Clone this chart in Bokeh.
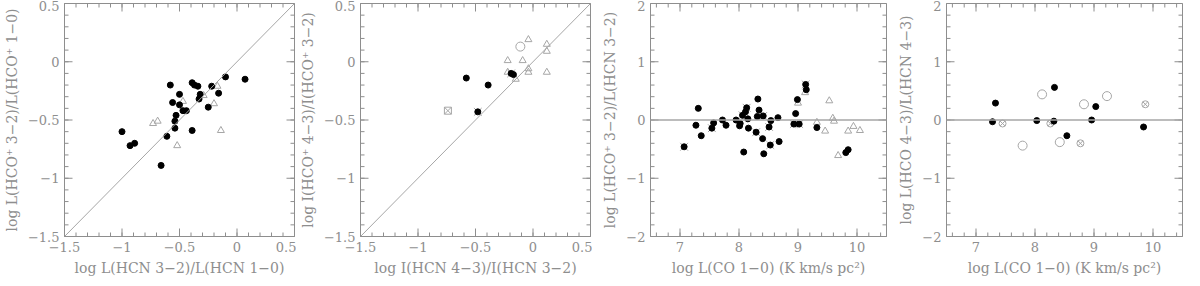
import numpy as np
from bokeh.plotting import figure
from bokeh.layouts import row
from bokeh.models import FixedTicker, CustomJSTickFormatter, Range1d, Slope, Span
from bokeh.embed import file_html
from bokeh.resources import INLINE

# ---------------- data ----------------
# Panel 1: log L(HCO+ 3-2)/L(HCO+ 1-0) vs log L(HCN 3-2)/L(HCN 1-0)
p1_dot_x = [-1.00, -0.93, -0.89, -0.66, -0.61, -0.58, -0.56, -0.54, -0.54, -0.53, -0.50, -0.50,
            -0.47, -0.44, -0.39, -0.39, -0.37, -0.34, -0.33, -0.32, -0.25, -0.22, -0.16, -0.10, 0.07]
p1_dot_y = [-0.60, -0.72, -0.70, -0.89, -0.64, -0.20, -0.35, -0.51, -0.57, -0.46, -0.28, -0.37,
            -0.42, -0.42, -0.18, -0.59, -0.20, -0.21, -0.32, -0.28, -0.39, -0.21, -0.27, -0.13, -0.15]
p1_tri_x = [-0.73, -0.69, -0.52, -0.47, -0.29, -0.20, -0.17, -0.14]
p1_tri_y = [-0.53, -0.51, -0.72, -0.34, -0.29, -0.36, -0.21, -0.59]

# Panel 2: log I(HCO+ 4-3)/I(HCO+ 3-2) vs log I(HCN 4-3)/I(HCN 3-2)
p2_dot_x = [-0.58, -0.39, -0.48, -0.19, -0.17]
p2_dot_y = [-0.14, -0.20, -0.43, -0.10, -0.11]
p2_cross_x = [-0.48, -0.19]
p2_cross_y = [-0.43, -0.10]
p2_sqx_x = [-0.74]
p2_sqx_y = [-0.42]
p2_circ_x = [-0.11]
p2_circ_y = [0.13]
p2_tri_x = [-0.22, -0.22, -0.15, -0.09, -0.04, -0.04, -0.04, 0.12, 0.12, 0.12]
p2_tri_y = [0.01, -0.09, -0.15, 0.01, 0.19, -0.06, -0.09, 0.15, 0.09, -0.09]

# Panel 3: log L(HCO+ 3-2)/L(HCN 3-2) vs log L(CO 1-0)
p3_dot_x = [7.07, 7.27, 7.31, 7.36, 7.54, 7.57, 7.72, 7.78, 7.95, 8.01, 8.02, 8.06, 8.08, 8.11,
            8.13, 8.15, 8.16, 8.29, 8.31, 8.32, 8.34, 8.40, 8.41, 8.42, 8.51, 8.53, 8.54, 8.66,
            8.68, 8.93, 8.96, 8.99, 9.02, 9.13, 9.14, 9.32, 9.81, 9.85]
p3_dot_y = [-0.46, -0.09, 0.20, -0.27, -0.14, -0.05, 0.00, -0.09, 0.00, -0.10, -0.06, 0.08, -0.55,
            0.14, 0.21, 0.02, -0.14, -0.21, 0.06, 0.36, 0.17, -0.32, 0.07, -0.58, -0.12, -0.43,
            -0.01, 0.04, -0.37, -0.07, 0.11, 0.35, -0.07, 0.61, 0.52, -0.13, -0.56, -0.51]
p3_cross_x = [7.07, 7.54, 8.06, 8.13, 8.29, 8.41, 8.51, 8.53, 8.93, 9.02, 9.13]
p3_cross_y = [-0.46, -0.14, 0.08, 0.21, -0.21, 0.07, -0.12, -0.43, -0.07, -0.07, 0.61]
p3_tri_x = [9.00, 9.12, 9.32, 9.46, 9.53, 9.59, 9.61, 9.68, 9.85, 9.94, 10.05]
p3_tri_y = [0.29, 0.47, -0.04, -0.19, 0.33, 0.03, -0.02, -0.61, -0.19, -0.11, -0.18]

# Panel 4: log L(HCO 4-3)/L(HCN 4-3) vs log L(CO 1-0)
p4_dot_x = [7.28, 7.33, 8.03, 8.32, 8.33, 8.54, 8.96, 9.03, 9.84]
p4_dot_y = [-0.03, 0.29, -0.01, -0.02, 0.56, -0.27, 0.00, 0.23, -0.12]
p4_circ_x = [7.79, 8.12, 8.42, 8.83, 9.22]
p4_circ_y = [-0.44, 0.44, -0.38, 0.27, 0.41]
p4_cx_x = [7.45, 8.26, 8.77, 9.87]
p4_cx_y = [-0.06, -0.06, -0.40, 0.27]

# ticks
ratio_ticks = [-1.5, -1, -0.5, 0, 0.5]
co_ticks = [7, 8, 9, 10]
diff_ticks = [-2, -1, 0, 1, 2]

labels = [
    ("log L(HCN 3\u22122)/L(HCN 1\u22120)", "log L(HCO\u207a 3\u22122)/L(HCO\u207a 1\u22120)"),
    ("log I(HCN 4\u22123)/I(HCN 3\u22122)", "log I(HCO\u207a 4\u22123)/I(HCO\u207a 3\u22122)"),
    ("log L(CO 1\u22120) (K km/s pc\u00b2)", "log L(HCO\u207a 3\u22122)/L(HCN 3\u22122)"),
    ("log L(CO 1\u22120) (K km/s pc\u00b2)", "log L(HCO 4\u22123)/L(HCN 4\u22123)"),
]

GRAY = "#8e8e8e"
LGRAY = "#a6a6a6"
FONT = "DejaVu Serif"


def minor(lo, hi, step):
    return [round(v, 3) for v in np.arange(lo, hi + step / 2, step)]


def style_axis(ax, ticks):
    ax.ticker = FixedTicker(ticks=ticks, minor_ticks=[])
    ax.formatter = CustomJSTickFormatter(code="return String(tick).replace('-', '\\u2212');")
    ax.major_tick_in = 0
    ax.major_tick_out = 0
    ax.minor_tick_in = 0
    ax.minor_tick_out = 0
    ax.axis_line_color = GRAY
    ax.major_tick_line_color = None
    ax.minor_tick_line_color = None
    ax.major_label_text_font = FONT
    ax.major_label_text_font_size = "13px"
    ax.major_label_text_color = GRAY
    ax.major_label_standoff = 5
    ax.axis_label_text_font = FONT
    ax.axis_label_text_font_size = "14px"
    ax.axis_label_text_font_style = "normal"
    ax.axis_label_text_color = GRAY
    ax.axis_label_standoff = 5


def add_ticks(p, xr, yr, vals, minors, horizontal_edge):
    """Inward tick marks drawn as dashes centred on the frame edges (clipped by the frame)."""
    for v_list, size in ((vals, 16), (minors, 8)):
        n = len(v_list)
        if horizontal_edge:  # ticks on bottom/top edges (x values)
            for yv in yr:
                p.scatter(v_list, [yv] * n, marker="dash", size=size, angle=np.pi / 2,
                          line_color=GRAY, line_width=1)
        else:  # ticks on left/right edges (y values)
            for xv in xr:
                p.scatter([xv] * n, v_list, marker="dash", size=size,
                          line_color=GRAY, line_width=1)


def make_fig(xr, yr, xt, xm, yt, ym, xlabel, ylabel):
    p = figure(width=296, height=278, x_range=Range1d(*xr), y_range=Range1d(*yr),
               output_backend="svg", toolbar_location=None,
               min_border_left=58, min_border_right=2, min_border_top=3, min_border_bottom=0)
    p.xgrid.grid_line_color = None
    p.ygrid.grid_line_color = None
    p.outline_line_color = GRAY
    p.background_fill_color = "white"
    p.border_fill_color = "white"
    p.xaxis.axis_label = xlabel
    p.yaxis.axis_label = ylabel
    style_axis(p.xaxis[0], xt)
    style_axis(p.yaxis[0], yt)
    add_ticks(p, xr, yr, xt, xm, True)
    add_ticks(p, xr, yr, yt, ym, False)
    return p


rm = minor(-1.5, 0.5, 0.1)
cm = minor(6.6, 10.4, 0.2)
dm = minor(-2.0, 2.0, 0.2)

# Panel 1
p1 = make_fig((-1.5, 0.5), (-1.5, 0.5), ratio_ticks, rm, ratio_ticks, rm, *labels[0])
p1.add_layout(Slope(gradient=1, y_intercept=0, line_color=LGRAY, line_width=1))
p1.scatter(p1_tri_x, p1_tri_y, marker="triangle", size=7, fill_color=None, line_color=LGRAY, line_width=1)
p1.scatter(p1_dot_x, p1_dot_y, marker="circle", size=6, fill_color="black", line_color="black")

# Panel 2
p2 = make_fig((-1.5, 0.5), (-1.5, 0.5), ratio_ticks, rm, ratio_ticks, rm, *labels[1])
p2.add_layout(Slope(gradient=1, y_intercept=0, line_color=LGRAY, line_width=1))
p2.scatter(p2_tri_x, p2_tri_y, marker="triangle", size=7, fill_color=None, line_color=LGRAY, line_width=1)
p2.scatter(p2_circ_x, p2_circ_y, marker="circle", size=9, fill_color=None, line_color=LGRAY, line_width=1)
p2.scatter(p2_sqx_x, p2_sqx_y, marker="square_x", size=7, fill_color=None, line_color=LGRAY, line_width=1)
p2.scatter(p2_cross_x, p2_cross_y, marker="x", size=11, line_color=LGRAY, line_width=1)
p2.scatter(p2_dot_x, p2_dot_y, marker="circle", size=6, fill_color="black", line_color="black")

# Panel 3
p3 = make_fig((6.5, 10.5), (-2, 2), co_ticks, cm, diff_ticks, dm, *labels[2])
p3.add_layout(Span(location=0, dimension="width", line_color=LGRAY, line_width=1.5))
p3.scatter(p3_tri_x, p3_tri_y, marker="triangle", size=7, fill_color=None, line_color=LGRAY, line_width=1)
p3.scatter(p3_cross_x, p3_cross_y, marker="x", size=11, line_color=LGRAY, line_width=1)
p3.scatter(p3_dot_x, p3_dot_y, marker="circle", size=6, fill_color="black", line_color="black")

# Panel 4
p4 = make_fig((6.5, 10.5), (-2, 2), co_ticks, cm, diff_ticks, dm, *labels[3])
p4.add_layout(Span(location=0, dimension="width", line_color=LGRAY, line_width=1.5))
p4.scatter(p4_circ_x, p4_circ_y, marker="circle", size=9, fill_color=None, line_color=LGRAY, line_width=1)
p4.scatter(p4_cx_x, p4_cx_y, marker="circle_x", size=7, fill_color=None, line_color=LGRAY, line_width=1)
p4.scatter(p4_dot_x, p4_dot_y, marker="circle", size=6, fill_color="black", line_color="black")

layout = row(p1, p2, p3, p4)
open("out.html", "w").write(file_html(layout, INLINE))
